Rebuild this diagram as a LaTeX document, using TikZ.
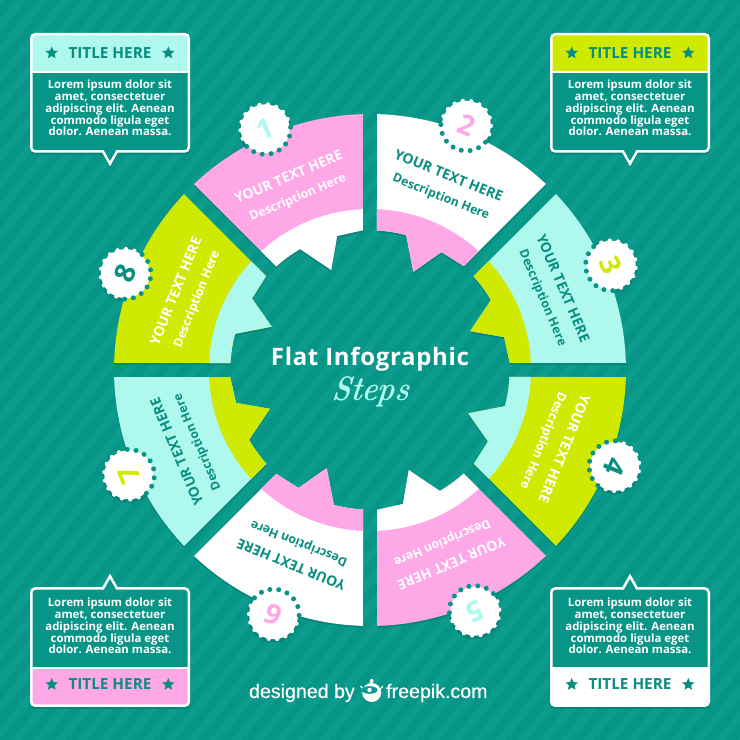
\documentclass[tikz,border=0pt]{standalone}
\usepackage{fontspec}
\usetikzlibrary{shapes.geometric}
\newfontfamily\osfont{Open Sans}
\newfontfamily\lsfont[FakeBold=0.4]{Liberation Sans}
\definecolor{bgteal}{HTML}{0B9C8D}
\definecolor{bgstripe}{HTML}{079587}
\definecolor{shadeteal}{HTML}{068678}
\definecolor{inkteal}{HTML}{088E80}
\definecolor{flatpink}{HTML}{FFA8E8}
\definecolor{flatmint}{HTML}{AEF8EE}
\definecolor{flatlime}{HTML}{CFEA00}
\newcommand{\wedgepath}{(88.43:256) arc[start angle=88.43,end angle=46.6,radius=256] -- (47.9:140) -- (58.8:138) -- (66.2:107.4) -- (75:139.7) arc[start angle=75,end angle=87.13,radius=139.7] -- cycle}
\newcommand{\notepath}{[rounded corners=4pt] (1.25,298) -- (1.25,335.75) -- (158.75,335.75) -- (158.75,218.5) [sharp corners] -- (87,218.5) -- (80,206.2) -- (73,218.5) [rounded corners=4pt] -- (1.25,218.5) -- cycle}
\tikzset{
	digit/.style={font=\osfont\bfseries\fontsize{28}{28}\selectfont,inner sep=0pt},
	capstext/.style={font=\osfont\bfseries\fontsize{14}{14}\selectfont,inner sep=0pt},
	desctext/.style={font=\osfont\bfseries\fontsize{12.3}{12.3}\selectfont,inner sep=0pt},
	loremtext/.style={font=\osfont\bfseries\fontsize{11.4}{11.85}\selectfont,text=white,align=center,inner sep=0pt},
	titletext/.style={font=\osfont\bfseries\fontsize{15.3}{15.3}\selectfont,text=inkteal,inner sep=0pt},
	titlestar/.style={star,star points=5,star point ratio=2.2,fill=inkteal,minimum size=13pt,inner sep=0pt},
	notelines/.style={draw=white,line width=2.5pt},
	brandtext/.style={font=\lsfont\fontsize{19.6}{19.6}\selectfont,text=white,inner sep=0pt}
}
\newcommand{\stepdisc}{\fill[white] (0,0) circle (24.5);
	\foreach \a in {0,20,...,340} {\fill[white] (248.5+10+\a:24.5) circle (2.2);}
	\foreach \a in {-70,-50,...,70} {\fill[bgstripe] (248.5+\a:25.5) circle (2.5);}}
\newcommand{\stepseg}[6]{
	\begin{scope}[shift={(370,368)},rotate=#1]
		\fill[shadeteal] \wedgepath;
		\fill[shadeteal] (68.5:263) circle (26);
	\end{scope}
	\begin{scope}[shift={(370,370)},rotate=#1]
		\fill[#2] \wedgepath;
		\begin{scope}
			\clip \wedgepath;
			\fill[#3] (0,0) circle (161);
		\end{scope}
		\node[capstext,text=#4,transform shape,rotate=-22] (caps#6) at (67.9:209.8) {YOUR TEXT HERE};
		\node[desctext,text=#4,transform shape,rotate=-22] (desc#6) at (67.7:186.6) {Description Here};
		\begin{scope}[shift={(68.5:263)}]
			\stepdisc
		\end{scope}
		\node[digit,text=#5,transform shape,rotate=-22.5] (digit#6) at (68.5:263) {#6};
	\end{scope}}
\newcommand{\notebox}[6]{
	\begin{scope}[shift={(#2,368)},yscale=#4]
		\fill[shadeteal] [rounded corners=4pt] (0,298) -- (0,337) -- (160,337) -- (160,217.3) [sharp corners] -- (88,217.3) -- (80,204) -- (72,217.3) [rounded corners=4pt] -- (0,217.3) -- cycle;
	\end{scope}
	\begin{scope}[shift={(#2,370)},yscale=#4]
		\fill[bgstripe] \notepath;
		\fill[#3] (1.5,298) rectangle (158.5,335.5);
		\draw[white,line width=2.5pt] (1,298) -- (159,298);
		\draw[notelines] \notepath;
	\end{scope}
	\node[titletext] (#1title) at (#2+80,#5) {TITLE HERE};
	\node[titlestar] (#1stara) at (#2+21.7,#5) {};
	\node[titlestar] (#1starb) at (#2+138.3,#5) {};
	\node[loremtext] (#1lorem) at (#2+80,#6) {Lorem ipsum dolor sit\\amet, consectetuer\\adipiscing elit. Aenean\\commodo ligula eget\\dolor. Aenean massa.};}

\begin{document}
\begin{tikzpicture}[x=1pt,y=1pt]
	\useasboundingbox (0,0) rectangle (740,740);
	\fill[bgteal] (0,0) rectangle (740,740);
	\begin{scope}
		\clip (0,0) rectangle (740,740);
		\foreach \i in {-30,...,34} {\fill[bgstripe] (\i*22,0) -- (\i*22+11,0) -- (\i*22+632,740) -- (\i*22+621,740) -- cycle;}
	\end{scope}
	\stepseg{45}{flatpink}{white}{white}{flatmint}{1}
	\stepseg{0}{white}{flatpink}{inkteal}{flatpink}{2}
	\stepseg{-45}{flatmint}{flatlime}{inkteal}{flatlime}{3}
	\stepseg{-90}{flatlime}{flatmint}{white}{inkteal}{4}
	\stepseg{-135}{flatpink}{white}{white}{flatmint}{5}
	\stepseg{180}{white}{flatpink}{inkteal}{flatpink}{6}
	\stepseg{135}{flatmint}{flatlime}{inkteal}{flatlime}{7}
	\stepseg{90}{flatlime}{flatmint}{white}{inkteal}{8}
	\notebox{nw}{30}{flatmint}{1}{687}{632}
	\notebox{ne}{550}{flatlime}{1}{687}{632}
	\notebox{sw}{30}{flatpink}{-1}{55.5}{114}
	\notebox{se}{550}{white}{-1}{55.5}{114}
	\node[font=\osfont\bfseries\fontsize{24}{24}\selectfont\addfontfeature{LetterSpace=2.8},text=white,inner sep=0pt] (headline) at (370,381) {Flat Infographic};
	\node[font=\bfseries\itshape\fontsize{34}{34}\selectfont,text=flatmint,inner sep=0pt,xscale=0.85,xslant=0.15] (subline) at (371,348) {Steps};
	\node[brandtext,anchor=base east] (designed) at (355,42) {designed by};
	\node[brandtext,anchor=base west] (freepik) at (386,42) {freepik.com};
	\fill[white] (371.7,47.5) circle (9.5);
	\fill[white] (371.7,59) circle (2);
	\draw[white,line width=1.2pt] (360.5,54) -- (363.5,50.5) (383,54) -- (380,50.5);
	\fill[bgteal] (369.5,50) ellipse (8 and 3.8);
	\fill[white] (369.5,50) circle (2.2);
\end{tikzpicture}
\end{document}
